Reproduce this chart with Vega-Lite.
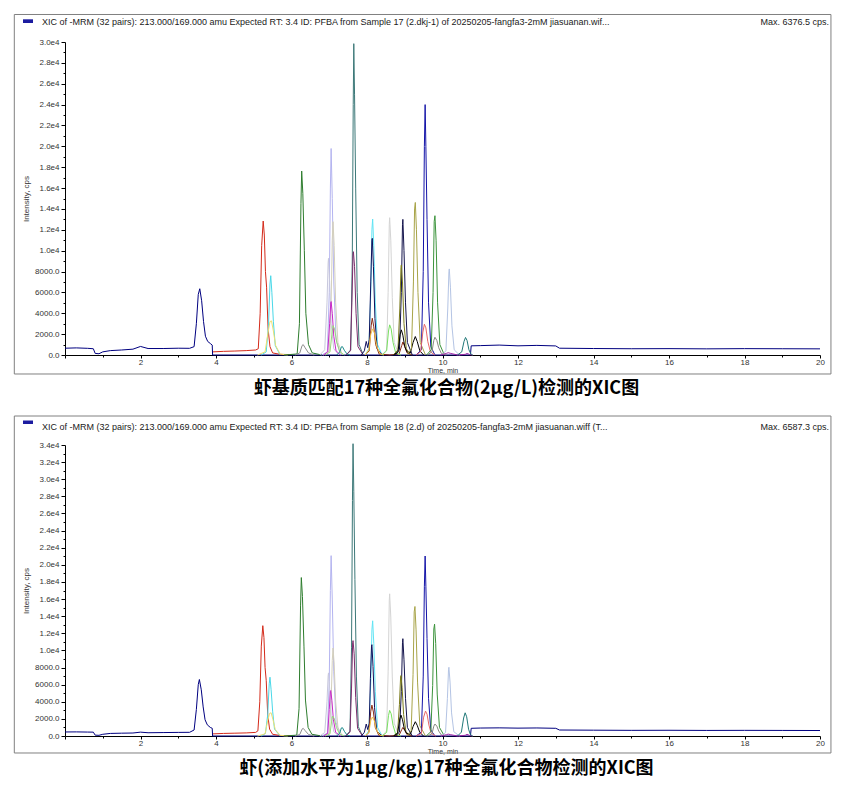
{
  "$schema": "https://vega.github.io/schema/vega-lite/v6.json",
  "background": "white",
  "padding": {"left": 13, "top": 13, "right": 0, "bottom": 0},
  "spacing": 16,
  "config": {
    "view": {"stroke": null},
    "font": "Liberation Sans",
    "axis": {"domainColor": "#000", "tickColor": "#000", "labelColor": "#333", "labelFontSize": 8, "titleFontSize": 8, "titleFontWeight": "normal", "titleColor": "#333", "grid": false, "tickSize": 3, "labelPadding": 2, "labelFont": "Liberation Sans", "titleFont": "Liberation Sans", "labelOverlap": false}
  },
  "data": {"values": [
    {"p":1,"s":"s01","t":0,"i":650},{"p":1,"s":"s01","t":0.3,"i":680},{"p":1,"s":"s01","t":0.6,"i":640},{"p":1,"s":"s01","t":0.75,"i":600},{"p":1,"s":"s01","t":0.8,"i":150},{"p":1,"s":"s01","t":0.9,"i":120},{"p":1,"s":"s01","t":1.0,"i":300},{"p":1,"s":"s01","t":1.2,"i":420},{"p":1,"s":"s01","t":1.5,"i":480},{"p":1,"s":"s01","t":1.8,"i":560},{"p":1,"s":"s01","t":2.0,"i":820},{"p":1,"s":"s01","t":2.2,"i":620},{"p":1,"s":"s01","t":2.6,"i":620},{"p":1,"s":"s01","t":3.0,"i":650},{"p":1,"s":"s01","t":3.3,"i":640},{"p":1,"s":"s01","t":3.42,"i":800},{"p":1,"s":"s01","t":3.48,"i":3000},{"p":1,"s":"s01","t":3.53,"i":5800},{"p":1,"s":"s01","t":3.57,"i":6350},{"p":1,"s":"s01","t":3.62,"i":5200},{"p":1,"s":"s01","t":3.67,"i":3200},{"p":1,"s":"s01","t":3.72,"i":1800},{"p":1,"s":"s01","t":3.78,"i":1300},{"p":1,"s":"s01","t":3.85,"i":1100},{"p":1,"s":"s01","t":3.9,"i":950},{"p":1,"s":"s01","t":3.91,"i":0},{"p":1,"s":"s01","t":10.74,"i":0},{"p":1,"s":"s01","t":10.76,"i":880},{"p":1,"s":"s01","t":11,"i":900},{"p":1,"s":"s01","t":11.5,"i":950},{"p":1,"s":"s01","t":12,"i":880},{"p":1,"s":"s01","t":12.5,"i":920},{"p":1,"s":"s01","t":13,"i":870},{"p":1,"s":"s01","t":13.1,"i":650},{"p":1,"s":"s01","t":14,"i":620},{"p":1,"s":"s01","t":15,"i":600},{"p":1,"s":"s01","t":16,"i":610},{"p":1,"s":"s01","t":17,"i":590},{"p":1,"s":"s01","t":18,"i":610},{"p":1,"s":"s01","t":19,"i":600},{"p":1,"s":"s01","t":20,"i":590},
    {"p":1,"s":"s02","t":3.92,"i":300},{"p":1,"s":"s02","t":4.2,"i":350},{"p":1,"s":"s02","t":4.5,"i":380},{"p":1,"s":"s02","t":4.8,"i":420},{"p":1,"s":"s02","t":5.05,"i":480},{"p":1,"s":"s02","t":5.12,"i":600},{"p":1,"s":"s02","t":5.17,"i":4000},{"p":1,"s":"s02","t":5.21,"i":10500},{"p":1,"s":"s02","t":5.25,"i":12840},{"p":1,"s":"s02","t":5.28,"i":11500},{"p":1,"s":"s02","t":5.31,"i":8000},{"p":1,"s":"s02","t":5.34,"i":6500},{"p":1,"s":"s02","t":5.38,"i":2500},{"p":1,"s":"s02","t":5.43,"i":800},{"p":1,"s":"s02","t":5.5,"i":200},{"p":1,"s":"s02","t":5.7,"i":60},{"p":1,"s":"s02","t":6.0,"i":40},
    {"p":1,"s":"s03","t":5.2,"i":0},{"p":1,"s":"s03","t":5.33,"i":300},{"p":1,"s":"s03","t":5.39,"i":2800},{"p":1,"s":"s03","t":5.43,"i":6800},{"p":1,"s":"s03","t":5.45,"i":7600},{"p":1,"s":"s03","t":5.48,"i":6000},{"p":1,"s":"s03","t":5.52,"i":3200},{"p":1,"s":"s03","t":5.57,"i":900},{"p":1,"s":"s03","t":5.7,"i":0},
    {"p":1,"s":"s04","t":5.1,"i":0},{"p":1,"s":"s04","t":5.3,"i":300},{"p":1,"s":"s04","t":5.38,"i":2200},{"p":1,"s":"s04","t":5.43,"i":3200},{"p":1,"s":"s04","t":5.47,"i":3270},{"p":1,"s":"s04","t":5.52,"i":2300},{"p":1,"s":"s04","t":5.58,"i":900},{"p":1,"s":"s04","t":5.7,"i":100},{"p":1,"s":"s04","t":5.9,"i":0},
    {"p":1,"s":"s05","t":5.8,"i":0},{"p":1,"s":"s05","t":6.15,"i":100},{"p":1,"s":"s05","t":6.21,"i":3000},{"p":1,"s":"s05","t":6.25,"i":14500},{"p":1,"s":"s05","t":6.27,"i":17630},{"p":1,"s":"s05","t":6.3,"i":15500},{"p":1,"s":"s05","t":6.34,"i":10000},{"p":1,"s":"s05","t":6.38,"i":4000},{"p":1,"s":"s05","t":6.45,"i":1000},{"p":1,"s":"s05","t":6.55,"i":200},{"p":1,"s":"s05","t":6.8,"i":0},
    {"p":1,"s":"s06","t":6.1,"i":0},{"p":1,"s":"s06","t":6.22,"i":200},{"p":1,"s":"s06","t":6.28,"i":900},{"p":1,"s":"s06","t":6.31,"i":1000},{"p":1,"s":"s06","t":6.36,"i":700},{"p":1,"s":"s06","t":6.45,"i":200},{"p":1,"s":"s06","t":6.6,"i":0},
    {"p":1,"s":"s07","t":6.8,"i":0},{"p":1,"s":"s07","t":6.95,"i":300},{"p":1,"s":"s07","t":7.0,"i":6000},{"p":1,"s":"s07","t":7.03,"i":16000},{"p":1,"s":"s07","t":7.05,"i":19790},{"p":1,"s":"s07","t":7.08,"i":15000},{"p":1,"s":"s07","t":7.12,"i":7000},{"p":1,"s":"s07","t":7.18,"i":1500},{"p":1,"s":"s07","t":7.3,"i":0},
    {"p":1,"s":"s08","t":6.85,"i":0},{"p":1,"s":"s08","t":7.0,"i":400},{"p":1,"s":"s08","t":7.05,"i":5000},{"p":1,"s":"s08","t":7.08,"i":11000},{"p":1,"s":"s08","t":7.1,"i":12780},{"p":1,"s":"s08","t":7.13,"i":10500},{"p":1,"s":"s08","t":7.17,"i":5000},{"p":1,"s":"s08","t":7.23,"i":1200},{"p":1,"s":"s08","t":7.35,"i":0},
    {"p":1,"s":"s09","t":6.75,"i":0},{"p":1,"s":"s09","t":6.88,"i":500},{"p":1,"s":"s09","t":6.94,"i":5000},{"p":1,"s":"s09","t":6.97,"i":8800},{"p":1,"s":"s09","t":6.98,"i":9260},{"p":1,"s":"s09","t":7.01,"i":7000},{"p":1,"s":"s09","t":7.05,"i":3000},{"p":1,"s":"s09","t":7.12,"i":600},{"p":1,"s":"s09","t":7.25,"i":0},
    {"p":1,"s":"s10","t":6.85,"i":0},{"p":1,"s":"s10","t":6.96,"i":300},{"p":1,"s":"s10","t":7.01,"i":3000},{"p":1,"s":"s10","t":7.04,"i":5000},{"p":1,"s":"s10","t":7.05,"i":5120},{"p":1,"s":"s10","t":7.08,"i":4000},{"p":1,"s":"s10","t":7.12,"i":1800},{"p":1,"s":"s10","t":7.18,"i":400},{"p":1,"s":"s10","t":7.3,"i":0},
    {"p":1,"s":"s11","t":6.9,"i":0},{"p":1,"s":"s11","t":7.02,"i":300},{"p":1,"s":"s11","t":7.07,"i":2000},{"p":1,"s":"s11","t":7.1,"i":2820},{"p":1,"s":"s11","t":7.14,"i":2500},{"p":1,"s":"s11","t":7.2,"i":1200},{"p":1,"s":"s11","t":7.28,"i":300},{"p":1,"s":"s11","t":7.4,"i":0},
    {"p":1,"s":"s12","t":7.2,"i":0},{"p":1,"s":"s12","t":7.28,"i":300},{"p":1,"s":"s12","t":7.32,"i":780},{"p":1,"s":"s12","t":7.35,"i":800},{"p":1,"s":"s12","t":7.4,"i":450},{"p":1,"s":"s12","t":7.47,"i":100},{"p":1,"s":"s12","t":7.55,"i":0},
    {"p":1,"s":"s13","t":7.45,"i":0},{"p":1,"s":"s13","t":7.57,"i":500},{"p":1,"s":"s13","t":7.61,"i":9000},{"p":1,"s":"s13","t":7.635,"i":24000},{"p":1,"s":"s13","t":7.65,"i":29840},{"p":1,"s":"s13","t":7.67,"i":25000},{"p":1,"s":"s13","t":7.7,"i":16000},{"p":1,"s":"s13","t":7.74,"i":6000},{"p":1,"s":"s13","t":7.79,"i":1000},{"p":1,"s":"s13","t":7.9,"i":0},
    {"p":1,"s":"s14","t":7.45,"i":0},{"p":1,"s":"s14","t":7.56,"i":400},{"p":1,"s":"s14","t":7.6,"i":5000},{"p":1,"s":"s14","t":7.63,"i":9700},{"p":1,"s":"s14","t":7.64,"i":9900},{"p":1,"s":"s14","t":7.67,"i":8500},{"p":1,"s":"s14","t":7.71,"i":4000},{"p":1,"s":"s14","t":7.76,"i":800},{"p":1,"s":"s14","t":7.9,"i":0},
    {"p":1,"s":"s16","t":7.95,"i":0},{"p":1,"s":"s16","t":8.05,"i":600},{"p":1,"s":"s16","t":8.1,"i":6000},{"p":1,"s":"s16","t":8.13,"i":12000},{"p":1,"s":"s16","t":8.15,"i":13030},{"p":1,"s":"s16","t":8.18,"i":10500},{"p":1,"s":"s16","t":8.22,"i":5000},{"p":1,"s":"s16","t":8.28,"i":1000},{"p":1,"s":"s16","t":8.4,"i":0},
    {"p":1,"s":"s17","t":7.85,"i":0},{"p":1,"s":"s17","t":7.93,"i":400},{"p":1,"s":"s17","t":7.98,"i":1300},{"p":1,"s":"s17","t":8.02,"i":700},{"p":1,"s":"s17","t":8.06,"i":1500},{"p":1,"s":"s17","t":8.1,"i":7000},{"p":1,"s":"s17","t":8.13,"i":11000},{"p":1,"s":"s17","t":8.14,"i":11180},{"p":1,"s":"s17","t":8.17,"i":8500},{"p":1,"s":"s17","t":8.21,"i":3500},{"p":1,"s":"s17","t":8.27,"i":600},{"p":1,"s":"s17","t":8.4,"i":0},
    {"p":1,"s":"s18","t":7.95,"i":0},{"p":1,"s":"s18","t":8.06,"i":400},{"p":1,"s":"s18","t":8.11,"i":2800},{"p":1,"s":"s18","t":8.14,"i":3520},{"p":1,"s":"s18","t":8.18,"i":2700},{"p":1,"s":"s18","t":8.23,"i":1000},{"p":1,"s":"s18","t":8.32,"i":100},{"p":1,"s":"s18","t":8.6,"i":0},{"p":1,"s":"s18","t":8.85,"i":100},{"p":1,"s":"s18","t":8.92,"i":900},{"p":1,"s":"s18","t":8.95,"i":1250},{"p":1,"s":"s18","t":9.0,"i":800},{"p":1,"s":"s18","t":9.06,"i":200},{"p":1,"s":"s18","t":9.2,"i":0},
    {"p":1,"s":"s19","t":7.95,"i":0},{"p":1,"s":"s19","t":8.05,"i":500},{"p":1,"s":"s19","t":8.1,"i":2000},{"p":1,"s":"s19","t":8.15,"i":2500},{"p":1,"s":"s19","t":8.2,"i":2100},{"p":1,"s":"s19","t":8.26,"i":800},{"p":1,"s":"s19","t":8.35,"i":100},{"p":1,"s":"s19","t":8.45,"i":0},
    {"p":1,"s":"s20","t":8.4,"i":0},{"p":1,"s":"s20","t":8.52,"i":500},{"p":1,"s":"s20","t":8.56,"i":6000},{"p":1,"s":"s20","t":8.59,"i":12500},{"p":1,"s":"s20","t":8.6,"i":13160},{"p":1,"s":"s20","t":8.63,"i":11000},{"p":1,"s":"s20","t":8.67,"i":5500},{"p":1,"s":"s20","t":8.72,"i":1200},{"p":1,"s":"s20","t":8.85,"i":0},
    {"p":1,"s":"s21","t":8.4,"i":0},{"p":1,"s":"s21","t":8.52,"i":400},{"p":1,"s":"s21","t":8.57,"i":2300},{"p":1,"s":"s21","t":8.6,"i":2890},{"p":1,"s":"s21","t":8.64,"i":2500},{"p":1,"s":"s21","t":8.69,"i":1200},{"p":1,"s":"s21","t":8.76,"i":200},{"p":1,"s":"s21","t":8.9,"i":0},
    {"p":1,"s":"s22","t":8.75,"i":0},{"p":1,"s":"s22","t":8.86,"i":500},{"p":1,"s":"s22","t":8.91,"i":6000},{"p":1,"s":"s22","t":8.94,"i":12500},{"p":1,"s":"s22","t":8.95,"i":13000},{"p":1,"s":"s22","t":8.98,"i":10000},{"p":1,"s":"s22","t":9.02,"i":5000},{"p":1,"s":"s22","t":9.07,"i":1200},{"p":1,"s":"s22","t":9.2,"i":0},
    {"p":1,"s":"s23","t":8.7,"i":0},{"p":1,"s":"s23","t":8.82,"i":500},{"p":1,"s":"s23","t":8.87,"i":4500},{"p":1,"s":"s23","t":8.9,"i":8400},{"p":1,"s":"s23","t":8.91,"i":8630},{"p":1,"s":"s23","t":8.94,"i":7000},{"p":1,"s":"s23","t":8.98,"i":3000},{"p":1,"s":"s23","t":9.04,"i":600},{"p":1,"s":"s23","t":9.15,"i":0},
    {"p":1,"s":"s24","t":8.7,"i":0},{"p":1,"s":"s24","t":8.82,"i":300},{"p":1,"s":"s24","t":8.88,"i":2000},{"p":1,"s":"s24","t":8.91,"i":2410},{"p":1,"s":"s24","t":8.95,"i":1900},{"p":1,"s":"s24","t":9.0,"i":800},{"p":1,"s":"s24","t":9.06,"i":300},{"p":1,"s":"s24","t":9.15,"i":200},{"p":1,"s":"s24","t":9.22,"i":1200},{"p":1,"s":"s24","t":9.28,"i":1770},{"p":1,"s":"s24","t":9.33,"i":1300},{"p":1,"s":"s24","t":9.4,"i":400},{"p":1,"s":"s24","t":9.5,"i":0},
    {"p":1,"s":"s25","t":9.05,"i":0},{"p":1,"s":"s25","t":9.18,"i":600},{"p":1,"s":"s25","t":9.23,"i":7000},{"p":1,"s":"s25","t":9.26,"i":14000},{"p":1,"s":"s25","t":9.28,"i":14620},{"p":1,"s":"s25","t":9.31,"i":12000},{"p":1,"s":"s25","t":9.35,"i":6000},{"p":1,"s":"s25","t":9.41,"i":1200},{"p":1,"s":"s25","t":9.55,"i":0},
    {"p":1,"s":"s26","t":9.3,"i":0},{"p":1,"s":"s26","t":9.44,"i":500},{"p":1,"s":"s26","t":9.49,"i":8000},{"p":1,"s":"s26","t":9.52,"i":20000},{"p":1,"s":"s26","t":9.54,"i":24000},{"p":1,"s":"s26","t":9.56,"i":20000},{"p":1,"s":"s26","t":9.59,"i":13000},{"p":1,"s":"s26","t":9.63,"i":5000},{"p":1,"s":"s26","t":9.69,"i":800},{"p":1,"s":"s26","t":9.8,"i":0},
    {"p":1,"s":"s27","t":9.3,"i":0},{"p":1,"s":"s27","t":9.42,"i":300},{"p":1,"s":"s27","t":9.48,"i":2200},{"p":1,"s":"s27","t":9.52,"i":2950},{"p":1,"s":"s27","t":9.56,"i":2600},{"p":1,"s":"s27","t":9.61,"i":1300},{"p":1,"s":"s27","t":9.68,"i":300},{"p":1,"s":"s27","t":9.8,"i":0},
    {"p":1,"s":"s28","t":9.58,"i":0},{"p":1,"s":"s28","t":9.7,"i":500},{"p":1,"s":"s28","t":9.75,"i":6000},{"p":1,"s":"s28","t":9.78,"i":12800},{"p":1,"s":"s28","t":9.8,"i":13350},{"p":1,"s":"s28","t":9.83,"i":11000},{"p":1,"s":"s28","t":9.87,"i":5000},{"p":1,"s":"s28","t":9.93,"i":1000},{"p":1,"s":"s28","t":10.05,"i":0},
    {"p":1,"s":"s29","t":9.6,"i":0},{"p":1,"s":"s29","t":9.72,"i":300},{"p":1,"s":"s29","t":9.77,"i":1400},{"p":1,"s":"s29","t":9.8,"i":1700},{"p":1,"s":"s29","t":9.85,"i":1400},{"p":1,"s":"s29","t":9.9,"i":700},{"p":1,"s":"s29","t":9.97,"i":150},{"p":1,"s":"s29","t":10.1,"i":0},
    {"p":1,"s":"s30","t":9.98,"i":0},{"p":1,"s":"s30","t":10.09,"i":400},{"p":1,"s":"s30","t":10.14,"i":4500},{"p":1,"s":"s30","t":10.17,"i":8000},{"p":1,"s":"s30","t":10.18,"i":8250},{"p":1,"s":"s30","t":10.21,"i":6500},{"p":1,"s":"s30","t":10.25,"i":2800},{"p":1,"s":"s30","t":10.31,"i":500},{"p":1,"s":"s30","t":10.45,"i":0},
    {"p":1,"s":"s31","t":9.95,"i":0},{"p":1,"s":"s31","t":10.1,"i":150},{"p":1,"s":"s31","t":10.15,"i":220},{"p":1,"s":"s31","t":10.22,"i":150},{"p":1,"s":"s31","t":10.4,"i":0},{"p":1,"s":"s31","t":10.6,"i":60},{"p":1,"s":"s31","t":10.65,"i":150},{"p":1,"s":"s31","t":10.72,"i":50},{"p":1,"s":"s31","t":10.8,"i":0},
    {"p":1,"s":"s32","t":10.4,"i":0},{"p":1,"s":"s32","t":10.51,"i":300},{"p":1,"s":"s32","t":10.57,"i":1300},{"p":1,"s":"s32","t":10.61,"i":1680},{"p":1,"s":"s32","t":10.65,"i":1400},{"p":1,"s":"s32","t":10.7,"i":500},{"p":1,"s":"s32","t":10.75,"i":100},{"p":1,"s":"s32","t":10.8,"i":0},

    {"p":2,"s":"s01","t":0,"i":470},{"p":2,"s":"s01","t":0.3,"i":480},{"p":2,"s":"s01","t":0.6,"i":460},{"p":2,"s":"s01","t":0.75,"i":450},{"p":2,"s":"s01","t":0.8,"i":100},{"p":2,"s":"s01","t":0.9,"i":80},{"p":2,"s":"s01","t":1.0,"i":200},{"p":2,"s":"s01","t":1.2,"i":300},{"p":2,"s":"s01","t":1.5,"i":330},{"p":2,"s":"s01","t":1.8,"i":350},{"p":2,"s":"s01","t":2.0,"i":450},{"p":2,"s":"s01","t":2.2,"i":380},{"p":2,"s":"s01","t":2.6,"i":400},{"p":2,"s":"s01","t":3.0,"i":420},{"p":2,"s":"s01","t":3.3,"i":430},{"p":2,"s":"s01","t":3.42,"i":700},{"p":2,"s":"s01","t":3.48,"i":3100},{"p":2,"s":"s01","t":3.53,"i":6000},{"p":2,"s":"s01","t":3.56,"i":6600},{"p":2,"s":"s01","t":3.61,"i":5400},{"p":2,"s":"s01","t":3.66,"i":3400},{"p":2,"s":"s01","t":3.71,"i":1900},{"p":2,"s":"s01","t":3.77,"i":1300},{"p":2,"s":"s01","t":3.85,"i":1000},{"p":2,"s":"s01","t":3.9,"i":900},{"p":2,"s":"s01","t":3.91,"i":0},{"p":2,"s":"s01","t":10.74,"i":0},{"p":2,"s":"s01","t":10.76,"i":900},{"p":2,"s":"s01","t":11,"i":930},{"p":2,"s":"s01","t":11.5,"i":950},{"p":2,"s":"s01","t":12,"i":920},{"p":2,"s":"s01","t":12.5,"i":940},{"p":2,"s":"s01","t":13,"i":900},{"p":2,"s":"s01","t":13.1,"i":700},{"p":2,"s":"s01","t":14,"i":680},{"p":2,"s":"s01","t":15,"i":660},{"p":2,"s":"s01","t":16,"i":670},{"p":2,"s":"s01","t":17,"i":650},{"p":2,"s":"s01","t":18,"i":660},{"p":2,"s":"s01","t":19,"i":650},{"p":2,"s":"s01","t":20,"i":640},
    {"p":2,"s":"s02","t":3.92,"i":250},{"p":2,"s":"s02","t":4.2,"i":300},{"p":2,"s":"s02","t":4.5,"i":330},{"p":2,"s":"s02","t":4.8,"i":360},{"p":2,"s":"s02","t":5.05,"i":420},{"p":2,"s":"s02","t":5.11,"i":600},{"p":2,"s":"s02","t":5.16,"i":4000},{"p":2,"s":"s02","t":5.2,"i":10500},{"p":2,"s":"s02","t":5.24,"i":12890},{"p":2,"s":"s02","t":5.27,"i":11500},{"p":2,"s":"s02","t":5.3,"i":8000},{"p":2,"s":"s02","t":5.33,"i":6500},{"p":2,"s":"s02","t":5.37,"i":2500},{"p":2,"s":"s02","t":5.42,"i":800},{"p":2,"s":"s02","t":5.5,"i":200},{"p":2,"s":"s02","t":5.7,"i":60},{"p":2,"s":"s02","t":6.0,"i":40},
    {"p":2,"s":"s03","t":5.2,"i":0},{"p":2,"s":"s03","t":5.31,"i":300},{"p":2,"s":"s03","t":5.37,"i":2500},{"p":2,"s":"s03","t":5.41,"i":6100},{"p":2,"s":"s03","t":5.43,"i":6870},{"p":2,"s":"s03","t":5.46,"i":5400},{"p":2,"s":"s03","t":5.5,"i":2900},{"p":2,"s":"s03","t":5.55,"i":800},{"p":2,"s":"s03","t":5.7,"i":0},
    {"p":2,"s":"s04","t":5.1,"i":0},{"p":2,"s":"s04","t":5.3,"i":250},{"p":2,"s":"s04","t":5.37,"i":1800},{"p":2,"s":"s04","t":5.42,"i":2650},{"p":2,"s":"s04","t":5.46,"i":2710},{"p":2,"s":"s04","t":5.51,"i":1900},{"p":2,"s":"s04","t":5.57,"i":750},{"p":2,"s":"s04","t":5.7,"i":80},{"p":2,"s":"s04","t":5.9,"i":0},
    {"p":2,"s":"s05","t":5.8,"i":0},{"p":2,"s":"s05","t":6.14,"i":100},{"p":2,"s":"s05","t":6.2,"i":3200},{"p":2,"s":"s05","t":6.24,"i":15200},{"p":2,"s":"s05","t":6.26,"i":18510},{"p":2,"s":"s05","t":6.29,"i":16300},{"p":2,"s":"s05","t":6.33,"i":10500},{"p":2,"s":"s05","t":6.37,"i":4200},{"p":2,"s":"s05","t":6.44,"i":1000},{"p":2,"s":"s05","t":6.54,"i":200},{"p":2,"s":"s05","t":6.8,"i":0},
    {"p":2,"s":"s06","t":6.1,"i":0},{"p":2,"s":"s06","t":6.22,"i":180},{"p":2,"s":"s06","t":6.28,"i":800},{"p":2,"s":"s06","t":6.31,"i":900},{"p":2,"s":"s06","t":6.36,"i":630},{"p":2,"s":"s06","t":6.45,"i":180},{"p":2,"s":"s06","t":6.6,"i":0},
    {"p":2,"s":"s07","t":6.8,"i":0},{"p":2,"s":"s07","t":6.95,"i":320},{"p":2,"s":"s07","t":7.0,"i":6400},{"p":2,"s":"s07","t":7.03,"i":17000},{"p":2,"s":"s07","t":7.05,"i":21070},{"p":2,"s":"s07","t":7.08,"i":16000},{"p":2,"s":"s07","t":7.12,"i":7500},{"p":2,"s":"s07","t":7.18,"i":1600},{"p":2,"s":"s07","t":7.3,"i":0},
    {"p":2,"s":"s08","t":6.85,"i":0},{"p":2,"s":"s08","t":7.0,"i":320},{"p":2,"s":"s08","t":7.05,"i":4000},{"p":2,"s":"s08","t":7.08,"i":8800},{"p":2,"s":"s08","t":7.1,"i":10280},{"p":2,"s":"s08","t":7.13,"i":8400},{"p":2,"s":"s08","t":7.17,"i":4000},{"p":2,"s":"s08","t":7.23,"i":1000},{"p":2,"s":"s08","t":7.35,"i":0},
    {"p":2,"s":"s09","t":6.75,"i":0},{"p":2,"s":"s09","t":6.88,"i":400},{"p":2,"s":"s09","t":6.94,"i":4000},{"p":2,"s":"s09","t":6.97,"i":7000},{"p":2,"s":"s09","t":6.98,"i":7370},{"p":2,"s":"s09","t":7.01,"i":5600},{"p":2,"s":"s09","t":7.05,"i":2400},{"p":2,"s":"s09","t":7.12,"i":500},{"p":2,"s":"s09","t":7.25,"i":0},
    {"p":2,"s":"s10","t":6.85,"i":0},{"p":2,"s":"s10","t":6.96,"i":310},{"p":2,"s":"s10","t":7.0,"i":3100},{"p":2,"s":"s10","t":7.03,"i":5200},{"p":2,"s":"s10","t":7.04,"i":5310},{"p":2,"s":"s10","t":7.07,"i":4150},{"p":2,"s":"s10","t":7.11,"i":1900},{"p":2,"s":"s10","t":7.17,"i":420},{"p":2,"s":"s10","t":7.3,"i":0},
    {"p":2,"s":"s11","t":6.9,"i":0},{"p":2,"s":"s11","t":7.02,"i":250},{"p":2,"s":"s11","t":7.06,"i":1650},{"p":2,"s":"s11","t":7.09,"i":2330},{"p":2,"s":"s11","t":7.13,"i":2070},{"p":2,"s":"s11","t":7.19,"i":1000},{"p":2,"s":"s11","t":7.27,"i":250},{"p":2,"s":"s11","t":7.4,"i":0},
    {"p":2,"s":"s12","t":7.2,"i":0},{"p":2,"s":"s12","t":7.28,"i":360},{"p":2,"s":"s12","t":7.32,"i":940},{"p":2,"s":"s12","t":7.35,"i":970},{"p":2,"s":"s12","t":7.4,"i":550},{"p":2,"s":"s12","t":7.47,"i":120},{"p":2,"s":"s12","t":7.55,"i":0},
    {"p":2,"s":"s13","t":7.43,"i":0},{"p":2,"s":"s13","t":7.55,"i":570},{"p":2,"s":"s13","t":7.59,"i":10300},{"p":2,"s":"s13","t":7.615,"i":27500},{"p":2,"s":"s13","t":7.63,"i":34150},{"p":2,"s":"s13","t":7.65,"i":28600},{"p":2,"s":"s13","t":7.68,"i":18300},{"p":2,"s":"s13","t":7.72,"i":6900},{"p":2,"s":"s13","t":7.77,"i":1100},{"p":2,"s":"s13","t":7.88,"i":0},
    {"p":2,"s":"s14","t":7.44,"i":0},{"p":2,"s":"s14","t":7.55,"i":450},{"p":2,"s":"s14","t":7.59,"i":5600},{"p":2,"s":"s14","t":7.62,"i":10900},{"p":2,"s":"s14","t":7.63,"i":11140},{"p":2,"s":"s14","t":7.66,"i":9600},{"p":2,"s":"s14","t":7.7,"i":4500},{"p":2,"s":"s14","t":7.75,"i":900},{"p":2,"s":"s14","t":7.88,"i":0},
    {"p":2,"s":"s16","t":7.95,"i":0},{"p":2,"s":"s16","t":8.05,"i":620},{"p":2,"s":"s16","t":8.1,"i":6200},{"p":2,"s":"s16","t":8.13,"i":12400},{"p":2,"s":"s16","t":8.15,"i":13460},{"p":2,"s":"s16","t":8.18,"i":10800},{"p":2,"s":"s16","t":8.22,"i":5200},{"p":2,"s":"s16","t":8.28,"i":1000},{"p":2,"s":"s16","t":8.4,"i":0},
    {"p":2,"s":"s17","t":7.85,"i":0},{"p":2,"s":"s17","t":7.93,"i":430},{"p":2,"s":"s17","t":7.98,"i":1400},{"p":2,"s":"s17","t":8.02,"i":750},{"p":2,"s":"s17","t":8.06,"i":1500},{"p":2,"s":"s17","t":8.09,"i":6700},{"p":2,"s":"s17","t":8.12,"i":10500},{"p":2,"s":"s17","t":8.13,"i":10670},{"p":2,"s":"s17","t":8.16,"i":8100},{"p":2,"s":"s17","t":8.2,"i":3300},{"p":2,"s":"s17","t":8.26,"i":600},{"p":2,"s":"s17","t":8.4,"i":0},
    {"p":2,"s":"s18","t":7.95,"i":0},{"p":2,"s":"s18","t":8.05,"i":400},{"p":2,"s":"s18","t":8.1,"i":2900},{"p":2,"s":"s18","t":8.13,"i":3610},{"p":2,"s":"s18","t":8.17,"i":2800},{"p":2,"s":"s18","t":8.22,"i":1000},{"p":2,"s":"s18","t":8.31,"i":100},{"p":2,"s":"s18","t":8.6,"i":0},{"p":2,"s":"s18","t":8.85,"i":80},{"p":2,"s":"s18","t":8.92,"i":750},{"p":2,"s":"s18","t":8.95,"i":1000},{"p":2,"s":"s18","t":9.0,"i":650},{"p":2,"s":"s18","t":9.06,"i":160},{"p":2,"s":"s18","t":9.2,"i":0},
    {"p":2,"s":"s19","t":7.95,"i":0},{"p":2,"s":"s19","t":8.05,"i":450},{"p":2,"s":"s19","t":8.1,"i":1800},{"p":2,"s":"s19","t":8.14,"i":2210},{"p":2,"s":"s19","t":8.19,"i":1850},{"p":2,"s":"s19","t":8.25,"i":700},{"p":2,"s":"s19","t":8.34,"i":100},{"p":2,"s":"s19","t":8.45,"i":0},
    {"p":2,"s":"s20","t":8.4,"i":0},{"p":2,"s":"s20","t":8.52,"i":600},{"p":2,"s":"s20","t":8.56,"i":7500},{"p":2,"s":"s20","t":8.59,"i":15800},{"p":2,"s":"s20","t":8.6,"i":16610},{"p":2,"s":"s20","t":8.63,"i":13900},{"p":2,"s":"s20","t":8.67,"i":6900},{"p":2,"s":"s20","t":8.72,"i":1500},{"p":2,"s":"s20","t":8.85,"i":0},
    {"p":2,"s":"s21","t":8.4,"i":0},{"p":2,"s":"s21","t":8.52,"i":420},{"p":2,"s":"s21","t":8.57,"i":2400},{"p":2,"s":"s21","t":8.6,"i":2990},{"p":2,"s":"s21","t":8.64,"i":2600},{"p":2,"s":"s21","t":8.69,"i":1250},{"p":2,"s":"s21","t":8.76,"i":200},{"p":2,"s":"s21","t":8.9,"i":0},
    {"p":2,"s":"s22","t":8.75,"i":0},{"p":2,"s":"s22","t":8.86,"i":450},{"p":2,"s":"s22","t":8.91,"i":5200},{"p":2,"s":"s22","t":8.94,"i":10900},{"p":2,"s":"s22","t":8.95,"i":11370},{"p":2,"s":"s22","t":8.98,"i":8900},{"p":2,"s":"s22","t":9.02,"i":4400},{"p":2,"s":"s22","t":9.07,"i":1000},{"p":2,"s":"s22","t":9.2,"i":0},
    {"p":2,"s":"s23","t":8.7,"i":0},{"p":2,"s":"s23","t":8.81,"i":400},{"p":2,"s":"s23","t":8.86,"i":3700},{"p":2,"s":"s23","t":8.89,"i":6900},{"p":2,"s":"s23","t":8.9,"i":7060},{"p":2,"s":"s23","t":8.93,"i":5700},{"p":2,"s":"s23","t":8.97,"i":2500},{"p":2,"s":"s23","t":9.03,"i":500},{"p":2,"s":"s23","t":9.15,"i":0},
    {"p":2,"s":"s24","t":8.7,"i":0},{"p":2,"s":"s24","t":8.81,"i":300},{"p":2,"s":"s24","t":8.87,"i":2000},{"p":2,"s":"s24","t":8.9,"i":2440},{"p":2,"s":"s24","t":8.94,"i":1900},{"p":2,"s":"s24","t":8.99,"i":800},{"p":2,"s":"s24","t":9.05,"i":300},{"p":2,"s":"s24","t":9.15,"i":200},{"p":2,"s":"s24","t":9.22,"i":1100},{"p":2,"s":"s24","t":9.28,"i":1670},{"p":2,"s":"s24","t":9.33,"i":1250},{"p":2,"s":"s24","t":9.4,"i":400},{"p":2,"s":"s24","t":9.5,"i":0},
    {"p":2,"s":"s25","t":9.05,"i":0},{"p":2,"s":"s25","t":9.17,"i":620},{"p":2,"s":"s25","t":9.22,"i":7200},{"p":2,"s":"s25","t":9.25,"i":14500},{"p":2,"s":"s25","t":9.27,"i":15130},{"p":2,"s":"s25","t":9.3,"i":12400},{"p":2,"s":"s25","t":9.34,"i":6200},{"p":2,"s":"s25","t":9.4,"i":1200},{"p":2,"s":"s25","t":9.55,"i":0},
    {"p":2,"s":"s26","t":9.3,"i":0},{"p":2,"s":"s26","t":9.44,"i":450},{"p":2,"s":"s26","t":9.49,"i":7000},{"p":2,"s":"s26","t":9.52,"i":17500},{"p":2,"s":"s26","t":9.54,"i":21030},{"p":2,"s":"s26","t":9.56,"i":17500},{"p":2,"s":"s26","t":9.59,"i":11400},{"p":2,"s":"s26","t":9.63,"i":4400},{"p":2,"s":"s26","t":9.69,"i":700},{"p":2,"s":"s26","t":9.8,"i":0},
    {"p":2,"s":"s27","t":9.3,"i":0},{"p":2,"s":"s27","t":9.44,"i":300},{"p":2,"s":"s27","t":9.5,"i":2200},{"p":2,"s":"s27","t":9.55,"i":2910},{"p":2,"s":"s27","t":9.59,"i":2550},{"p":2,"s":"s27","t":9.64,"i":1280},{"p":2,"s":"s27","t":9.7,"i":300},{"p":2,"s":"s27","t":9.82,"i":0},
    {"p":2,"s":"s28","t":9.57,"i":0},{"p":2,"s":"s28","t":9.69,"i":500},{"p":2,"s":"s28","t":9.74,"i":5900},{"p":2,"s":"s28","t":9.77,"i":12500},{"p":2,"s":"s28","t":9.79,"i":13070},{"p":2,"s":"s28","t":9.82,"i":10800},{"p":2,"s":"s28","t":9.86,"i":4900},{"p":2,"s":"s28","t":9.92,"i":1000},{"p":2,"s":"s28","t":10.05,"i":0},
    {"p":2,"s":"s29","t":9.6,"i":0},{"p":2,"s":"s29","t":9.72,"i":250},{"p":2,"s":"s29","t":9.77,"i":1150},{"p":2,"s":"s29","t":9.8,"i":1400},{"p":2,"s":"s29","t":9.85,"i":1150},{"p":2,"s":"s29","t":9.9,"i":580},{"p":2,"s":"s29","t":9.97,"i":120},{"p":2,"s":"s29","t":10.1,"i":0},
    {"p":2,"s":"s30","t":9.97,"i":0},{"p":2,"s":"s30","t":10.08,"i":400},{"p":2,"s":"s30","t":10.13,"i":4400},{"p":2,"s":"s30","t":10.16,"i":7800},{"p":2,"s":"s30","t":10.17,"i":8030},{"p":2,"s":"s30","t":10.2,"i":6300},{"p":2,"s":"s30","t":10.24,"i":2700},{"p":2,"s":"s30","t":10.3,"i":500},{"p":2,"s":"s30","t":10.45,"i":0},
    {"p":2,"s":"s31","t":9.95,"i":0},{"p":2,"s":"s31","t":10.1,"i":150},{"p":2,"s":"s31","t":10.15,"i":220},{"p":2,"s":"s31","t":10.22,"i":150},{"p":2,"s":"s31","t":10.4,"i":0},{"p":2,"s":"s31","t":10.6,"i":80},{"p":2,"s":"s31","t":10.65,"i":200},{"p":2,"s":"s31","t":10.72,"i":60},{"p":2,"s":"s31","t":10.8,"i":0},
    {"p":2,"s":"s32","t":10.4,"i":0},{"p":2,"s":"s32","t":10.5,"i":450},{"p":2,"s":"s32","t":10.56,"i":2100},{"p":2,"s":"s32","t":10.6,"i":2710},{"p":2,"s":"s32","t":10.64,"i":2250},{"p":2,"s":"s32","t":10.69,"i":800},{"p":2,"s":"s32","t":10.74,"i":150},{"p":2,"s":"s32","t":10.8,"i":0}
  ]},
  "vconcat": [
    {
      "width": 755,
      "height": 313,
      "title": {"text": "虾基质匹配17种全氟化合物(2μg/L)检测的XIC图", "orient": "bottom", "anchor": "middle", "frame": "group", "font": "Noto Sans CJK SC", "fontSize": 18, "fontWeight": "bold", "color": "#000", "offset": 6, "dx": 4},
      "layer": [
        {
          "transform": [{"filter": "datum.p == 1"}],
          "mark": {"type": "line", "strokeWidth": 1, "interpolate": "linear"},
          "encoding": {
            "x": {"field": "t", "type": "quantitative", "scale": {"domain": [0, 20], "nice": false, "zero": false},
              "axis": {"title": "Time, min", "titleFontSize": 7, "titlePadding": 0, "labelPadding": 0, "labelOverlap": false, "tickCount": 100, "values": [0,1,2,3,4,5,6,7,8,9,10,11,12,13,14,15,16,17,18,19,20], "labelExpr": "datum.value % 2 == 0 && datum.value > 0 ? format(datum.value, 'd') : ''", "tickSize": {"condition": {"test": "datum.value % 2 != 0", "value": 2}, "value": 3}, "labelFlush": false}},
            "y": {"field": "i", "type": "quantitative", "scale": {"domain": [0, 30000], "nice": false},
              "axis": {"title": "Intensity, cps", "titlePadding": 4, "labelOverlap": false, "tickCount": 100, "values": [0,1000,2000,3000,4000,5000,6000,7000,8000,9000,10000,11000,12000,13000,14000,15000,16000,17000,18000,19000,20000,21000,22000,23000,24000,25000,26000,27000,28000,29000,30000], "labelExpr": "datum.value % 2000 != 0 ? '' : (datum.value >= 10000 ? format(datum.value / 10000, '.1f') + 'e4' : format(datum.value, '.1f'))", "tickSize": {"condition": {"test": "datum.value % 2000 != 0", "value": 2}, "value": 4}, "labelFlush": false}},
            "color": {"field": "s", "type": "nominal", "legend": null,
              "scale": {"domain": ["s01","s02","s03","s04","s05","s06","s07","s08","s09","s10","s11","s12","s13","s14","s16","s17","s18","s19","s20","s21","s22","s23","s24","s25","s26","s27","s28","s29","s30","s31","s32"],
                "range": ["#000080","#d42a1a","#48d8e8","#f0e070","#2e7d2e","#8c8c8c","#b4b4f0","#d4d0bc","#c8c8dc","#c828c8","#98d878","#1e8c8c","#3c7878","#7c2c6c","#60e4f4","#10105c","#8c2c14","#f4c848","#d4d4d4","#78e060","#14144c","#7c7c1c","#000000","#a8a448","#1414a8","#e86868","#3c943c","#888880","#b4c4e4","#a028a8","#207878"]}}
          }
        },
        {
          "data": {"values": [{}]},
          "mark": {"type": "rect", "filled": false, "color": "#808080", "strokeWidth": 1},
          "encoding": {
            "x": {"datum": -1.343, "type": "quantitative"},
            "x2": {"datum": 20.29},
            "y": {"datum": 32636, "type": "quantitative"},
            "y2": {"datum": -1821}
          }
        },
        {
          "data": {"values": [{}]},
          "mark": {"type": "rect", "color": "#1c1ca0"},
          "encoding": {
            "x": {"datum": -1.113, "type": "quantitative"},
            "x2": {"datum": -0.848},
            "y": {"datum": 32176, "type": "quantitative"},
            "y2": {"datum": 31821}
          }
        },
        {
          "data": {"values": [{}]},
          "mark": {"type": "text", "text": "XIC of -MRM (32 pairs): 213.000/169.000 amu Expected RT: 3.4 ID: PFBA from Sample 17 (2.dkj-1) of 20250205-fangfa3-2mM jiasuanan.wif...", "align": "left", "baseline": "middle", "fontSize": 9, "font": "Liberation Sans", "color": "#1a1a1a"},
          "encoding": {
            "x": {"datum": -0.61, "type": "quantitative"},
            "y": {"datum": 31946, "type": "quantitative"}
          }
        },
        {
          "data": {"values": [{}]},
          "mark": {"type": "text", "text": "Max. 6376.5 cps.", "align": "right", "baseline": "middle", "fontSize": 9, "font": "Liberation Sans", "color": "#1a1a1a"},
          "encoding": {
            "x": {"datum": 20.24, "type": "quantitative"},
            "y": {"datum": 31946, "type": "quantitative"}
          }
        }
      ]
    },
    {
      "width": 755,
      "height": 291,
      "title": {"text": "虾(添加水平为1μg/kg)17种全氟化合物检测的XIC图", "orient": "bottom", "anchor": "middle", "frame": "group", "font": "Noto Sans CJK SC", "fontSize": 18, "fontWeight": "bold", "color": "#000", "offset": 6, "dx": 4},
      "layer": [
        {
          "transform": [{"filter": "datum.p == 2"}],
          "mark": {"type": "line", "strokeWidth": 1, "interpolate": "linear"},
          "encoding": {
            "x": {"field": "t", "type": "quantitative", "scale": {"domain": [0, 20], "nice": false, "zero": false},
              "axis": {"title": "Time, min", "titleFontSize": 7, "titlePadding": 0, "labelPadding": 0, "labelOverlap": false, "tickCount": 100, "values": [0,1,2,3,4,5,6,7,8,9,10,11,12,13,14,15,16,17,18,19,20], "labelExpr": "datum.value % 2 == 0 && datum.value > 0 ? format(datum.value, 'd') : ''", "tickSize": {"condition": {"test": "datum.value % 2 != 0", "value": 2}, "value": 3}, "labelFlush": false}},
            "y": {"field": "i", "type": "quantitative", "scale": {"domain": [0, 34000], "nice": false},
              "axis": {"title": "Intensity, cps", "titlePadding": 4, "labelOverlap": false, "tickCount": 100, "values": [0,1000,2000,3000,4000,5000,6000,7000,8000,9000,10000,11000,12000,13000,14000,15000,16000,17000,18000,19000,20000,21000,22000,23000,24000,25000,26000,27000,28000,29000,30000,31000,32000,33000,34000], "labelExpr": "datum.value % 2000 != 0 ? '' : (datum.value >= 10000 ? format(datum.value / 10000, '.1f') + 'e4' : format(datum.value, '.1f'))", "tickSize": {"condition": {"test": "datum.value % 2000 != 0", "value": 2}, "value": 4}, "labelFlush": false}},
            "color": {"field": "s", "type": "nominal", "legend": null,
              "scale": {"domain": ["s01","s02","s03","s04","s05","s06","s07","s08","s09","s10","s11","s12","s13","s14","s16","s17","s18","s19","s20","s21","s22","s23","s24","s25","s26","s27","s28","s29","s30","s31","s32"],
                "range": ["#000080","#d42a1a","#48d8e8","#f0e070","#2e7d2e","#8c8c8c","#b4b4f0","#d4d0bc","#c8c8dc","#c828c8","#98d878","#1e8c8c","#3c7878","#7c2c6c","#60e4f4","#10105c","#8c2c14","#f4c848","#d4d4d4","#78e060","#14144c","#7c7c1c","#000000","#a8a448","#1414a8","#e86868","#3c943c","#888880","#b4c4e4","#a028a8","#207878"]}}
          }
        },
        {
          "data": {"values": [{}]},
          "mark": {"type": "rect", "filled": false, "color": "#808080", "strokeWidth": 1},
          "encoding": {
            "x": {"datum": -1.343, "type": "quantitative"},
            "x2": {"datum": 20.29},
            "y": {"datum": 37388, "type": "quantitative"},
            "y2": {"datum": -1986}
          }
        },
        {
          "data": {"values": [{}]},
          "mark": {"type": "rect", "color": "#1c1ca0"},
          "encoding": {
            "x": {"datum": -1.113, "type": "quantitative"},
            "x2": {"datum": -0.848},
            "y": {"datum": 36862, "type": "quantitative"},
            "y2": {"datum": 36454}
          }
        },
        {
          "data": {"values": [{}]},
          "mark": {"type": "text", "text": "XIC of -MRM (32 pairs): 213.000/169.000 amu Expected RT: 3.4 ID: PFBA from Sample 18 (2.d) of 20250205-fangfa3-2mM jiasuanan.wiff (T...", "align": "left", "baseline": "middle", "fontSize": 9, "font": "Liberation Sans", "color": "#1a1a1a"},
          "encoding": {
            "x": {"datum": -0.61, "type": "quantitative"},
            "y": {"datum": 36161, "type": "quantitative"}
          }
        },
        {
          "data": {"values": [{}]},
          "mark": {"type": "text", "text": "Max. 6587.3 cps.", "align": "right", "baseline": "middle", "fontSize": 9, "font": "Liberation Sans", "color": "#1a1a1a"},
          "encoding": {
            "x": {"datum": 20.24, "type": "quantitative"},
            "y": {"datum": 36161, "type": "quantitative"}
          }
        }
      ]
    }
  ]
}
